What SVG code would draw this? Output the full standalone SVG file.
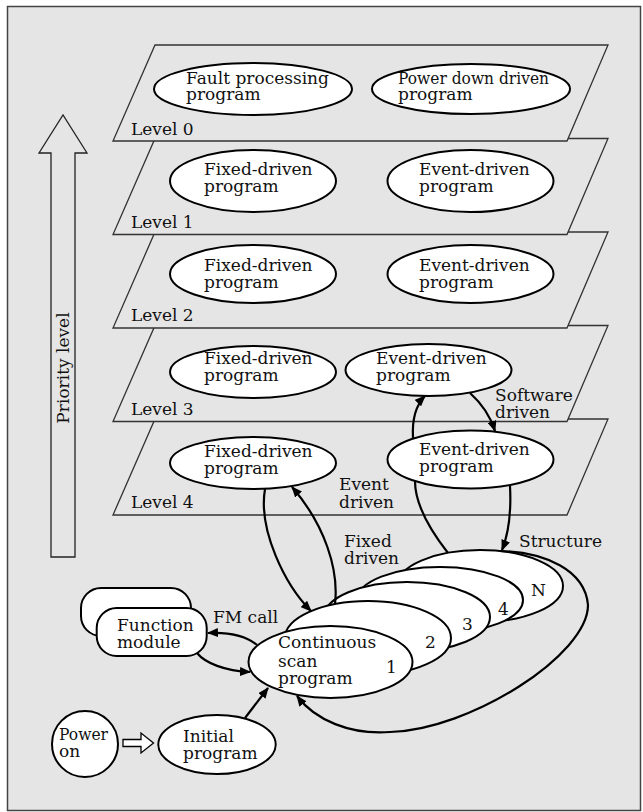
<svg xmlns="http://www.w3.org/2000/svg" width="643" height="812" viewBox="0 0 643 812">
<style>
text{font-family:"DejaVu Serif","Liberation Serif",serif;font-size:17px;fill:#111}
.lvl{fill:#e5e5e5;stroke:#333;stroke-width:1.3;stroke-linejoin:miter}
.nd{fill:#fff;stroke:#000;stroke-width:2}
.cn{fill:none;stroke:#000;stroke-width:2.2}
.ar{marker-end:url(#ah)}
</style>
<defs>
<marker id="ah" markerUnits="userSpaceOnUse" markerWidth="11" markerHeight="9" refX="10" refY="4.5" orient="auto">
<path d="M0,0 L11,4.5 L0,9 z" fill="#000"/>
</marker>
</defs>
<rect x="0" y="0" width="643" height="812" fill="#fff"/>
<rect x="7.5" y="6.5" width="633" height="804" fill="#e5e5e5" stroke="#444" stroke-width="1.5"/>

<g id="priority">
<polygon points="51,557 51,153 39,153 63,115 87,153 75,153 75,557" fill="none" stroke="#222" stroke-width="1.3"/>
<text transform="translate(69,368) rotate(-90)" text-anchor="middle">Priority level</text>
</g>

<g id="level4"><polygon class="lvl" points="155,419 608,419 567,515 113,515"/><text x="131" y="508">Level 4</text></g>
<g id="level3"><polygon class="lvl" points="155,325.5 608,325.5 567,421.5 113,421.5"/><text x="131" y="415">Level 3</text></g>
<g id="level2"><polygon class="lvl" points="155,232 608,232 567,328 113,328"/><text x="131" y="321">Level 2</text></g>
<g id="level1"><polygon class="lvl" points="155,138.5 608,138.5 567,234.5 113,234.5"/><text x="131" y="228">Level 1</text></g>
<g id="level0"><polygon class="lvl" points="155,45 608,45 567,141 113,141"/><text x="131" y="135">Level 0</text></g>

<g id="fault"><ellipse class="nd" cx="253" cy="89" rx="99" ry="26"/><text x="186" y="84">Fault processing</text><text x="186" y="100">program</text></g>
<g id="powerdown"><ellipse class="nd" cx="471" cy="89" rx="99" ry="25"/><text x="398" y="84" textLength="151" lengthAdjust="spacingAndGlyphs">Power down driven</text><text x="398" y="100">program</text></g>

<g id="fixed1"><ellipse class="nd" cx="253" cy="181" rx="83" ry="31"/><text x="204" y="175">Fixed-driven</text><text x="204" y="192">program</text></g>
<g id="event1"><ellipse class="nd" cx="470.5" cy="181" rx="83" ry="31"/><text x="419" y="175">Event-driven</text><text x="419" y="192">program</text></g>

<g id="fixed2"><ellipse class="nd" cx="253" cy="274" rx="83" ry="29"/><text x="204" y="271">Fixed-driven</text><text x="204" y="288">program</text></g>
<g id="event2"><ellipse class="nd" cx="470.5" cy="274" rx="83" ry="29"/><text x="419" y="271">Event-driven</text><text x="419" y="288">program</text></g>

<g id="fixed3"><ellipse class="nd" cx="253" cy="372" rx="83" ry="26"/><text x="204" y="364">Fixed-driven</text><text x="204" y="381">program</text></g>
<g id="event3"><ellipse class="nd" cx="428.5" cy="370" rx="83" ry="26"/><text x="376" y="364">Event-driven</text><text x="376" y="381">program</text></g>

<g id="fixed4"><ellipse class="nd" cx="253" cy="463" rx="83" ry="26"/><text x="204" y="457">Fixed-driven</text><text x="204" y="474">program</text></g>
<g id="event4"><ellipse class="nd" cx="470.5" cy="459.5" rx="83" ry="29"/><text x="419" y="455">Event-driven</text><text x="419" y="472">program</text></g>

<g id="scanN"><ellipse class="nd" cx="480" cy="586" rx="83" ry="36"/><text x="531" y="596">N</text></g>
<g id="scan4"><ellipse class="nd" cx="440" cy="600" rx="83" ry="33"/><text x="498" y="615">4</text></g>
<g id="scan3"><ellipse class="nd" cx="407" cy="617" rx="83" ry="35"/><text x="462" y="630">3</text></g>
<g id="scan2"><ellipse class="nd" cx="368" cy="638" rx="83" ry="37"/><text x="425" y="648">2</text></g>
<g id="scan1"><ellipse class="nd" cx="330.5" cy="662" rx="82" ry="36"/><text x="278" y="648">Continuous</text><text x="278" y="667">scan</text><text x="278" y="684">program</text><text x="386" y="673">1</text></g>

<g id="fmodule">
<rect class="nd" x="81" y="588" width="110" height="48" rx="20" ry="20"/>
<rect class="nd" x="96.7" y="608" width="110" height="48" rx="20" ry="20"/>
<text x="117" y="631">Function</text><text x="117" y="648">module</text>
</g>

<g id="poweron"><ellipse class="nd" cx="85" cy="744" rx="33" ry="33"/><text x="59" y="740" textLength="49" lengthAdjust="spacingAndGlyphs">Power</text><text x="59" y="757">on</text></g>
<g id="initial"><ellipse class="nd" cx="217" cy="744.5" rx="58.7" ry="29.5"/><text x="183" y="742">Initial</text><text x="183" y="759">program</text></g>

<g id="connectors">
<polygon points="123,739.5 141,739.5 141,733 153.5,743 141,753 141,746.5 123,746.5" fill="#fff" stroke="#000" stroke-width="1.3"/>
<path class="cn ar" d="M245,718 L268,688"/>
<path class="cn ar" d="M257,645 C245,635 228,632 208,633"/>
<path class="cn ar" d="M197,653 C205,663 225,671 250,672"/>
<path class="cn ar" d="M265,489 C258,530 285,585 311,611"/>
<path class="cn ar" d="M335,604 C339,570 325,525 292,487"/>
<path class="cn" d="M448,553 C430,530 415,505 415,481"/>
<path class="cn ar" d="M413,438 C412,420 416,405 425,396"/>
<path class="cn ar" d="M470,393 C480,402 490,415 495,431"/>
<path class="cn ar" d="M510,486 C511,505 510,530 502,550"/>
<path class="cn ar" d="M500,551 C545,552 585,570 588,605 C588,655 470,730 390,732 C350,735 315,720 297,696"/>
<text x="339" y="490">Event</text><text x="339" y="508">driven</text>
<text x="344" y="547">Fixed</text><text x="344" y="564">driven</text>
<text x="495" y="401">Software</text><text x="495" y="418">driven</text>
<text x="519" y="547">Structure</text>
<text x="213" y="623">FM call</text>
</g>
</svg>
